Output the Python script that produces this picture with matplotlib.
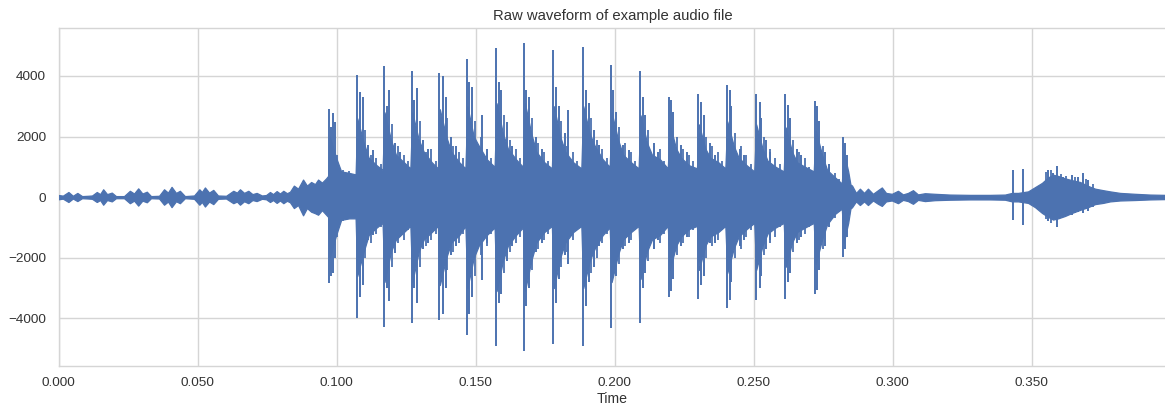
import matplotlib
matplotlib.use("Agg")
import matplotlib.pyplot as plt
from matplotlib.ticker import FormatStrFormatter

# ---- waveform data (seconds, amplitude) ----
# envelope of the signal: time, upper extent, lower extent
env_t = [
    0.0000, 0.0015, 0.0035, 0.0051, 0.0067, 0.0084, 0.0105, 0.0120, 0.0137, 0.0149,
    0.0160, 0.0174, 0.0191, 0.0206, 0.0235, 0.0256, 0.0271, 0.0286, 0.0301, 0.0317,
    0.0332, 0.0361, 0.0379, 0.0393, 0.0406, 0.0422, 0.0436, 0.0454, 0.0487, 0.0506,
    0.0515, 0.0526, 0.0541, 0.0556, 0.0573, 0.0602, 0.0628, 0.0641, 0.0652, 0.0667,
    0.0682, 0.0697, 0.0712, 0.0731, 0.0746, 0.0760, 0.0771, 0.0784, 0.0796, 0.0808,
    0.0821, 0.0832, 0.0846, 0.0861, 0.0879, 0.0893, 0.0908, 0.0922, 0.0933, 0.0947,
    0.0962,
    0.0969, 0.0975, 0.0998, 0.1016, 0.1045,
    0.1068, 0.1074, 0.1097, 0.1115, 0.1144, 0.1165,
    0.1172, 0.1195, 0.1213, 0.1242, 0.1265,
    0.1272, 0.1295, 0.1313, 0.1342, 0.1364,
    0.1371, 0.1394, 0.1412, 0.1441, 0.1463,
    0.1470, 0.1493, 0.1511, 0.1540, 0.1568,
    0.1575, 0.1598, 0.1616, 0.1645, 0.1670,
    0.1677, 0.1700, 0.1718, 0.1747, 0.1774,
    0.1781, 0.1804, 0.1822, 0.1851, 0.1880,
    0.1887, 0.1910, 0.1928, 0.1957, 0.1982,
    0.1989, 0.2012, 0.2030, 0.2059, 0.2086,
    0.2093, 0.2116, 0.2134, 0.2163, 0.2191,
    0.2198, 0.2221, 0.2239, 0.2268, 0.2296,
    0.2303, 0.2326, 0.2344, 0.2373, 0.2398,
    0.2405, 0.2428, 0.2446, 0.2475, 0.2502,
    0.2509, 0.2532, 0.2550, 0.2579, 0.2608,
    0.2615, 0.2638, 0.2656, 0.2685, 0.2716,
    0.2723, 0.2746, 0.2764, 0.2793, 0.2817,
    0.2824, 0.2840, 0.2848,
    0.2854, 0.2868, 0.2882, 0.2897, 0.2911, 0.2929, 0.2947, 0.2961, 0.2976, 0.2997,
    0.3019, 0.3037, 0.3055, 0.3073, 0.3091, 0.3116, 0.3152, 0.3206, 0.3278, 0.3350,
    0.3404, 0.3429, 0.3451, 0.3487, 0.3512, 0.3537, 0.3559, 0.3577, 0.3595, 0.3620,
    0.3645, 0.3674, 0.3703, 0.3728, 0.3757, 0.3782, 0.3818, 0.3872, 0.3926, 0.3980,
]
env_hi = [
    70, 50, 170, 45, 140, 35, 45, 55, 170, 100,
    260, 100, 150, 35, 35, 210, 120, 290, 120, 180,
    35, 45, 260, 150, 340, 140, 210, 35, 55, 260,
    170, 320, 150, 240, 55, 45, 210, 150, 260, 140,
    210, 100, 140, 55, 70, 170, 100, 200, 120, 210,
    130, 180, 380, 280, 580, 380, 500, 430, 580, 480,
    620,
    700, 2000, 1300, 850, 800,
    750, 2600, 1800, 1300, 1050, 900,
    2800, 1900, 1400, 1150, 950,
    2800, 1900, 1500, 1150, 950,
    2900, 2000, 1500, 1150, 950,
    3000, 2000, 1700, 1250, 1000,
    3100, 2100, 1600, 1250, 1000,
    3100, 2100, 1500, 1150, 950,
    3000, 2000, 1500, 1150, 950,
    3000, 2100, 1700, 1250, 1000,
    2800, 1900, 1400, 1150, 950,
    2700, 1800, 1400, 1250, 950,
    2400, 1600, 1300, 1050, 950,
    2400, 1600, 1300, 1150, 950,
    2500, 1700, 1300, 1050, 850,
    2400, 1600, 1200, 1000, 850,
    2300, 1500, 1150, 1000, 850,
    2200, 1400, 900, 650, 450,
    1500, 850, 420,
    380, 140, 280, 140, 280, 110, 230, 320, 140, 110,
    210, 90, 140, 230, 90, 130, 110, 85, 75, 75,
    85, 140, 140, 190, 330, 470, 650, 740, 700, 620,
    560, 500, 370, 280, 230, 190, 140, 110, 85, 75,
]
env_lo = [
    -70, -50, -160, -45, -130, -35, -45, -55, -160, -95,
    -250, -95, -140, -35, -35, -200, -115, -280, -115, -170,
    -35, -45, -250, -145, -330, -135, -200, -35, -55, -250,
    -160, -310, -145, -230, -55, -45, -200, -145, -250, -135,
    -200, -95, -130, -55, -70, -160, -95, -190, -110, -200,
    -120, -170, -360, -260, -600, -360, -480, -530, -580, -430,
    -580,
    -650, -2000, -1250, -750, -700,
    -700, -2600, -1800, -1250, -1000, -850,
    -2800, -1800, -1400, -1150, -950,
    -2800, -1800, -1400, -1150, -950,
    -2900, -2000, -1500, -1250, -950,
    -3000, -2000, -1600, -1250, -1000,
    -3100, -2100, -1600, -1250, -1000,
    -3100, -2100, -1500, -1150, -950,
    -3000, -2000, -1500, -1150, -950,
    -3000, -2100, -1700, -1250, -1000,
    -2800, -1900, -1400, -1150, -950,
    -2700, -1800, -1400, -1250, -950,
    -2400, -1600, -1300, -1050, -950,
    -2400, -1600, -1300, -1150, -950,
    -2500, -1700, -1300, -1050, -850,
    -2400, -1600, -1200, -1000, -850,
    -2300, -1500, -1150, -1000, -850,
    -2200, -1400, -900, -550, -380,
    -1500, -850, -380,
    -330, -140, -260, -140, -260, -110, -220, -290, -140, -110,
    -200, -90, -130, -220, -90, -130, -100, -85, -75, -75,
    -85, -140, -140, -190, -330, -520, -650, -740, -700, -620,
    -520, -420, -330, -230, -190, -140, -110, -95, -75, -65,
]

# main glottal pulses and the excursions right after them: time, max, min
spike_t = [
    0.0973, 0.0980, 0.0987, 0.0994,
    0.1072, 0.1083, 0.1094, 0.1114, 0.1130,
    0.1170, 0.1181, 0.1188, 0.1210, 0.1228,
    0.1270, 0.1277, 0.1288, 0.1310, 0.1330,
    0.1369, 0.1383, 0.1394, 0.1412, 0.1430,
    0.1468, 0.1475, 0.1486, 0.1522, 0.1540,
    0.1573, 0.1584, 0.1591, 0.1611, 0.1630,
    0.1675, 0.1682, 0.1693, 0.1718, 0.1740,
    0.1779, 0.1790, 0.1801, 0.1820, 0.1833,
    0.1885, 0.1896, 0.1907, 0.1925, 0.1942,
    0.1987, 0.1994, 0.2005, 0.2030, 0.2050,
    0.2091, 0.2102, 0.2110, 0.2140, 0.2155,
    0.2196, 0.2203, 0.2210, 0.2240, 0.2260,
    0.2301, 0.2312, 0.2320, 0.2343, 0.2360,
    0.2403, 0.2414, 0.2420, 0.2450, 0.2465,
    0.2507, 0.2521, 0.2525, 0.2546, 0.2560,
    0.2613, 0.2624, 0.2630, 0.2655, 0.2670,
    0.2721, 0.2728, 0.2735, 0.2755, 0.2770,
    0.2822, 0.2829, 0.2836,
    0.3434, 0.3468, 0.3559, 0.3577, 0.3592, 0.3612, 0.3646, 0.3666, 0.3684, 0.3702,
]
spike_hi = [
    2900, 2300, 2770, 2490,
    4040, 3480, 3315, 1720, 1570,
    4310, 3000, 3535, 1780, 1500,
    4170, 3200, 3590, 1890, 1600,
    4090, 4000, 3300, 1980, 1700,
    4550, 3790, 3650, 2700, 1600,
    4920, 3810, 3535, 2490, 1700,
    5090, 3535, 3300, 2000, 1600,
    4870, 3650, 3000, 2100, 2875,
    4960, 3535, 3100, 2215, 1720,
    4360, 3535, 2800, 1720, 1570,
    4170, 3315, 2700, 1780, 1500,
    3310, 3200, 2800, 1720, 1500,
    3400, 3150, 2700, 1780, 1400,
    3700, 3535, 3000, 1600, 1400,
    3400, 3150, 2600, 1900, 1500,
    3400, 3050, 2600, 1600, 1400,
    3170, 3000, 2500, 1500, 1100,
    2000, 1800, 1400,
    900, 930, 900, 790, 1040, 680, 735, 650, 790, 570,
]
spike_lo = [
    -2840, -2600, -2500, -2000,
    -4000, -3280, -2900, -1400, -1250,
    -4290, -3000, -3420, -1850, -1300,
    -4150, -3000, -3500, -1700, -1500,
    -4050, -3870, -3000, -1900, -1600,
    -4540, -3870, -3300, -2730, -1500,
    -4910, -3500, -3200, -2100, -1600,
    -5085, -3600, -3000, -1800, -1500,
    -4840, -3500, -2700, -1900, -2200,
    -4920, -3600, -2800, -2300, -1600,
    -4320, -2615, -2600, -1700, -1500,
    -4150, -3000, -2500, -1700, -1400,
    -3300, -3100, -2700, -1600, -1300,
    -3360, -2900, -2600, -1500, -1500,
    -3660, -3400, -2800, -1600, -1400,
    -3385, -3000, -2600, -1700, -1400,
    -3360, -2800, -2500, -1500, -1300,
    -3190, -3050, -2400, -1600, -1000,
    -1960, -1700, -1300,
    -750, -910, -800, -700, -970, -460, -600, -500, -520, -450,
]

# ringing between pulses: time, max, min
ring_t = [
    0.1002, 0.1023, 0.1044, 0.1058,
    0.1101, 0.1122, 0.1143, 0.1158,
    0.1199, 0.1220, 0.1241, 0.1256,
    0.1299, 0.1320, 0.1341, 0.1356,
    0.1398, 0.1419, 0.1440, 0.1455,
    0.1497, 0.1518, 0.1539, 0.1554,
    0.1602, 0.1623, 0.1644, 0.1659,
    0.1704, 0.1725, 0.1746, 0.1761,
    0.1808, 0.1829, 0.1850, 0.1865,
    0.1914, 0.1935, 0.1956, 0.1971,
    0.2016, 0.2037, 0.2058, 0.2073,
    0.2120, 0.2141, 0.2162, 0.2177,
    0.2225, 0.2246, 0.2267, 0.2282,
    0.2330, 0.2351, 0.2372, 0.2387,
    0.2432, 0.2453, 0.2474, 0.2489,
    0.2536, 0.2557, 0.2578, 0.2593,
    0.2642, 0.2663, 0.2684, 0.2699,
    0.2750, 0.2771, 0.2792, 0.2807,
    0.3550, 0.3570, 0.3605, 0.3625, 0.3655, 0.3695, 0.3720,
]
ring_hi = [
    1400, 900, 850, 700,
    2200, 1400, 1300, 1100,
    2400, 1700, 1400, 1200,
    2500, 1500, 1600, 1200,
    2600, 1700, 1500, 1300,
    2500, 2000, 1500, 1300,
    2700, 1900, 1600, 1300,
    2600, 1800, 1500, 1200,
    2500, 1700, 1500, 1200,
    2600, 1900, 1600, 1300,
    2300, 1800, 1500, 1200,
    2200, 1700, 1600, 1200,
    2000, 1600, 1400, 1200,
    2000, 1700, 1500, 1200,
    2100, 1700, 1400, 1100,
    2000, 1600, 1300, 1100,
    1900, 1500, 1300, 1000,
    1700, 1000, 800, 600,
    820, 880, 760, 700, 650, 600, 420,
]
ring_lo = [
    -1300, -800, -700, -650,
    -2000, -1500, -1200, -1000,
    -2300, -1500, -1400, -1100,
    -2300, -1600, -1400, -1200,
    -2400, -1800, -1500, -1200,
    -2600, -1900, -1600, -1200,
    -2500, -1800, -1500, -1300,
    -2400, -1700, -1400, -1200,
    -2300, -1800, -1400, -1100,
    -2500, -2000, -1500, -1200,
    -2200, -1600, -1400, -1100,
    -2100, -1700, -1500, -1200,
    -1900, -1500, -1300, -1100,
    -2000, -1600, -1400, -1100,
    -2000, -1700, -1300, -1100,
    -1900, -1500, -1300, -1000,
    -1800, -1400, -1200, -1000,
    -1700, -900, -700, -500,
    -720, -860, -640, -560, -520, -380, -330,
]

x_ticks = [0.0, 0.05, 0.10, 0.15, 0.20, 0.25, 0.30, 0.35]
y_ticks = [-4000, -2000, 0, 2000, 4000]

# ---- style ----
plt.rcParams["font.family"] = ["Liberation Sans", "DejaVu Sans"]
wave_color = "#4C72B0"
grid_color = "#d5d5d5"
text_color = "#333333"

fig = plt.figure(figsize=(11.65, 4.08), dpi=100)
ax = fig.add_axes([58.7 / 1165, 42 / 408, (1166.5 - 58.7) / 1165, 338 / 408])
ax.set_facecolor("white")

ax.fill_between(env_t, env_lo, env_hi, color=wave_color, linewidth=0.9,
                edgecolor=wave_color, zorder=3)
ax.vlines(ring_t, ring_lo, ring_hi, color=wave_color, linewidth=1.3, zorder=3)
ax.vlines(spike_t, spike_lo, spike_hi, color=wave_color, linewidth=1.4, zorder=3)

ax.set_xlim(0, 0.3985)
ax.set_ylim(-5570, 5580)
ax.set_xticks(x_ticks)
ax.set_yticks(y_ticks)
ax.xaxis.set_major_formatter(FormatStrFormatter("%.3f"))

ax.grid(True, color=grid_color, linewidth=1.0, zorder=0)
ax.set_axisbelow(True)
for sp in ax.spines.values():
    sp.set_color(grid_color)
    sp.set_linewidth(1.0)
ax.tick_params(axis="both", length=0, labelsize=9.7, colors=text_color)
ax.tick_params(axis="x", pad=8)
ax.tick_params(axis="y", pad=9)

ax.set_title("Raw waveform of example audio file", fontsize=10.7, color=text_color, pad=6)
ax.set_xlabel("Time", fontsize=10.2, color=text_color, labelpad=2)

fig.savefig("out.png", dpi=100, facecolor="white")
